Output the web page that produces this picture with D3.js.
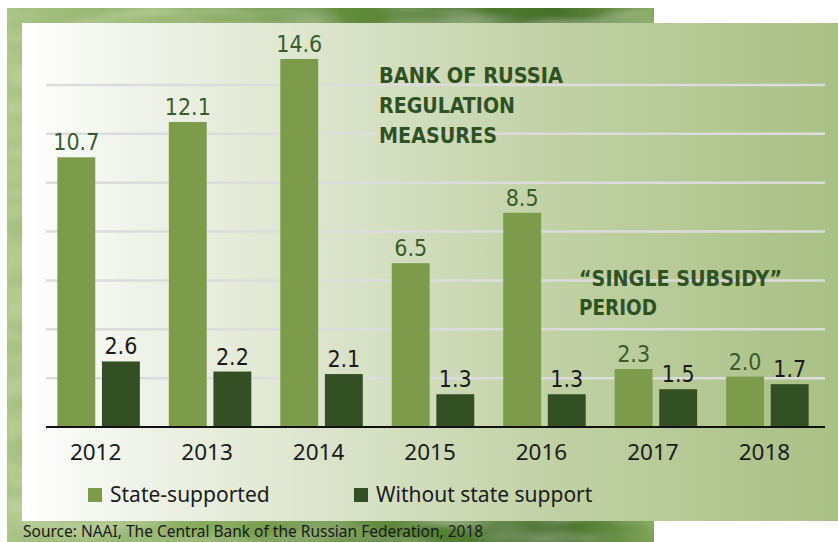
<!DOCTYPE html>
<html>
<head>
<meta charset="utf-8">
<script src="https://cdn.jsdelivr.net/npm/d3@7"></script>
<style>
  body { margin: 0; background: #ffffff; }
  svg { display: block; }
</style>
</head>
<body>
<div id="mainChart"></div>
<script>
// chart data
var years = ["2012", "2013", "2014", "2015", "2016", "2017", "2018"];
var stateSupported = [10.7, 12.1, 14.6, 6.5, 8.5, 2.3, 2.0];
var withoutSupport = [2.6, 2.2, 2.1, 1.3, 1.3, 1.5, 1.7];
var seriesNames = ["State-supported", "Without state support"];
var noteTop = ["BANK OF RUSSIA", "REGULATION", "MEASURES"];
var noteMid = ["\u201CSINGLE SUBSIDY\u201D", "PERIOD"];
var sourceText = "Source: NAAI, The Central Bank of the Russian Federation, 2018";

var width = 838, height = 542;

//colors
var lightBar = "#7c9c4b";
var darkBar = "#325024";
var noteColor = "#2f5223";
var textColor = "#1b1b1b";

var svg = d3.select("#mainChart").append("svg")
            .attr("width", width)
            .attr("height", height);

var defs = svg.append("defs");

//photo behind the panel (blurry green leaves)
var photoGrad = defs.append("linearGradient")
            .attr("id", "photoGrad")
            .attr("x1", 0).attr("y1", 0).attr("x2", 1).attr("y2", 0);
photoGrad.append("stop").attr("offset", "0%").attr("stop-color", "#a9c285");
photoGrad.append("stop").attr("offset", "25%").attr("stop-color", "#8fb065");
photoGrad.append("stop").attr("offset", "55%").attr("stop-color", "#5f8a38");
photoGrad.append("stop").attr("offset", "85%").attr("stop-color", "#45702a");
photoGrad.append("stop").attr("offset", "100%").attr("stop-color", "#7aa050");

var noise = defs.append("filter").attr("id", "leafy")
            .attr("x", 0).attr("y", 0).attr("width", 1).attr("height", 1);
noise.append("feTurbulence")
            .attr("type", "fractalNoise")
            .attr("baseFrequency", "0.012 0.05")
            .attr("numOctaves", 2)
            .attr("seed", 4)
            .attr("result", "turb");
noise.append("feColorMatrix")
            .attr("in", "turb")
            .attr("type", "matrix")
            .attr("values", "0 0 0 0 0.78  0 0 0 0 0.88  0 0 0 0 0.62  0 0 0 0.6 -0.2")
            .attr("result", "spots");
noise.append("feGaussianBlur")
            .attr("in", "spots")
            .attr("stdDeviation", 1.5)
            .attr("result", "soft");
noise.append("feComposite")
            .attr("in", "soft")
            .attr("in2", "SourceGraphic")
            .attr("operator", "atop");

svg.append("rect")
            .attr("x", 7).attr("y", 8)
            .attr("width", 647).attr("height", 534)
            .attr("fill", "url(#photoGrad)")
            .attr("filter", "url(#leafy)");

//panel gradient, white on the left to pale green on the right
var panelGrad = defs.append("linearGradient")
            .attr("id", "panelGrad")
            .attr("x1", 0).attr("y1", 0).attr("x2", 1).attr("y2", 0);
panelGrad.append("stop").attr("offset", "0%").attr("stop-color", "#ffffff");
panelGrad.append("stop").attr("offset", "15%").attr("stop-color", "#eff2e8");
panelGrad.append("stop").attr("offset", "40%").attr("stop-color", "#d9e2c8");
panelGrad.append("stop").attr("offset", "65%").attr("stop-color", "#c1d1a5");
panelGrad.append("stop").attr("offset", "100%").attr("stop-color", "#a9c085");

svg.append("rect")
            .attr("x", 22).attr("y", 23)
            .attr("width", width - 22).attr("height", 498)
            .attr("fill", "url(#panelGrad)");

var x0 = 44, x1 = 822; //band range
var baseY = 427;

var x = d3.scaleBand()
            .domain(years)
            .range([x0, x1])
            .paddingInner(0.26)
            .paddingOuter(0.12);

var xs = d3.scaleBand()
            .domain(seriesNames)
            .range([0, x.bandwidth()])
            .paddingInner(0.15);

var y = d3.scaleLinear()
            .domain([0, d3.max(stateSupported)])
            .range([baseY, 59]);

//decorative gridlines, 7 rows above the baseline
var grid = d3.scaleLinear().domain([0, 7]).range([baseY, 85]);

svg.append("g")
            .attr("class", "grid")
            .selectAll("line")
            .data(d3.range(1, 8))
            .enter()
            .append("line")
            .attr("x1", 46).attr("x2", 825)
            .attr("y1", function(d) { return grid(d); })
            .attr("y2", function(d) { return grid(d); })
            .attr("stroke", "#dcdcdc")
            .attr("stroke-width", 2.5);

//notes
var notes = svg.append("g")
            .attr("font-family", "'DejaVu Sans Condensed', 'DejaVu Sans', sans-serif")
            .attr("font-weight", "bold")
            .attr("font-size", 21)
            .attr("fill", noteColor);

var topWidths = [184, 136, 118];
notes.selectAll("text.top")
            .data(noteTop)
            .enter()
            .append("text")
            .attr("class", "top")
            .attr("x", 379)
            .attr("y", function(d, i) { return 83 + i * 30; })
            .attr("textLength", function(d, i) { return topWidths[i]; })
            .attr("lengthAdjust", "spacingAndGlyphs")
            .text(function(d) { return d; });

var midWidths = [203, 78];
notes.selectAll("text.mid")
            .data(noteMid)
            .enter()
            .append("text")
            .attr("class", "mid")
            .attr("x", 579)
            .attr("y", function(d, i) { return 286 + i * 29; })
            .attr("textLength", function(d, i) { return midWidths[i]; })
            .attr("lengthAdjust", "spacingAndGlyphs")
            .text(function(d) { return d; });

//one group per year holding both bars
var rows = years.map(function(yr, i) {
    return [
        {year: yr, series: seriesNames[0], value: stateSupported[i]},
        {year: yr, series: seriesNames[1], value: withoutSupport[i]}
    ];
});

var groups = svg.selectAll("g.year")
            .data(rows)
            .enter()
            .append("g")
            .attr("class", "year")
            .attr("transform", function(d) { return "translate(" + x(d[0].year) + ",0)"; });

groups.selectAll("rect")
            .data(function(d) { return d; })
            .enter()
            .append("rect")
            .attr("x", function(d) { return xs(d.series); })
            .attr("y", function(d) { return y(d.value); })
            .attr("width", xs.bandwidth())
            .attr("height", function(d) { return baseY - y(d.value); })
            .attr("fill", function(d, i) { return i == 0 ? lightBar : darkBar; });

groups.selectAll("text")
            .data(function(d) { return d; })
            .enter()
            .append("text")
            .attr("x", function(d) { return xs(d.series) + xs.bandwidth() / 2; })
            .attr("y", function(d) { return y(d.value) - 7; })
            .attr("text-anchor", "middle")
            .attr("font-family", "'Liberation Sans Narrow', 'DejaVu Sans Condensed', sans-serif")
            .attr("font-size", 23)
            .attr("fill", function(d, i) { return i == 0 ? "#3a5c2b" : textColor; })
            .text(function(d) { return d3.format(".1f")(d.value); });

//baseline axis with year labels
var axis = svg.append("g")
            .attr("transform", "translate(0," + baseY + ")")
            .call(d3.axisBottom(x).tickSize(0).tickPadding(0));
axis.select(".domain").remove();
axis.append("line")
            .attr("x1", 46).attr("x2", 825)
            .attr("stroke", "#111111")
            .attr("stroke-width", 2);
axis.selectAll(".tick text")
            .attr("y", 33)
            .attr("dx", -3)
            .attr("dy", 0)
            .attr("font-family", "'Noto Sans', sans-serif")
            .attr("font-size", 22.5)
            .attr("fill", textColor);

//legend
var legendX = [88, 354];
var legend = svg.selectAll("g.legend")
            .data(seriesNames)
            .enter()
            .append("g")
            .attr("class", "legend")
            .attr("transform", function(d, i) { return "translate(" + legendX[i] + ",488)"; });
legend.append("rect")
            .attr("width", 14).attr("height", 14)
            .attr("fill", function(d, i) { return i == 0 ? lightBar : darkBar; });
legend.append("text")
            .attr("x", 22).attr("y", 14)
            .attr("font-family", "'Noto Sans', sans-serif")
            .attr("font-size", 21)
            .attr("fill", textColor)
            .text(function(d) { return d; });

//source line at the bottom
svg.append("text")
            .attr("x", 23).attr("y", 537)
            .attr("font-family", "'Noto Sans', sans-serif")
            .attr("font-size", 15.5)
            .attr("fill", "#1a1a1a")
            .text(sourceText);
</script>
</body>
</html>
